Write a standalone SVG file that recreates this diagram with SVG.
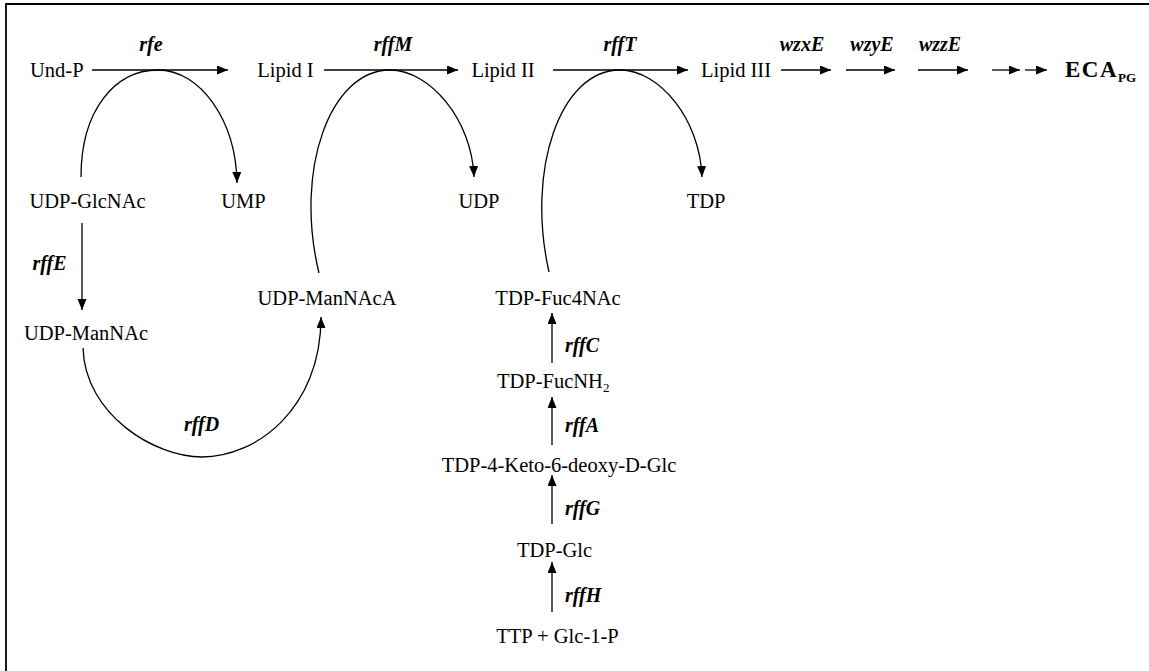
<svg xmlns="http://www.w3.org/2000/svg" width="1149" height="671" viewBox="0 0 1149 671">
<style>
.t{font-family:"Liberation Serif","Times New Roman",serif;font-size:20.5px;fill:#000}
.m{text-anchor:middle}
.e{font-family:"Liberation Serif","Times New Roman",serif;font-size:20px;font-weight:bold;font-style:italic;fill:#000}
.c{fill:none;stroke:#000;stroke-width:1.3}
</style>
<defs>
<marker id="ah" markerUnits="userSpaceOnUse" markerWidth="12" markerHeight="10" refX="11" refY="4.5" orient="auto">
<path d="M0,0 L11,4.5 L0,9 z" fill="#000"/>
</marker>
</defs>
<rect width="1149" height="671" fill="#fff"/>
<path d="M6,671 L6,4 L1149,4" fill="none" stroke="#000" stroke-width="1.8"/>

<g id="connectors">
<path class="c" d="M92,70 L228,70" marker-end="url(#ah)"/>
<path class="c" d="M324,70 L458,70" marker-end="url(#ah)"/>
<path class="c" d="M553,70 L688,70" marker-end="url(#ah)"/>
<path class="c" d="M781,70 L831,70" marker-end="url(#ah)"/>
<path class="c" d="M846,70 L895,70" marker-end="url(#ah)"/>
<path class="c" d="M918,70 L968,70" marker-end="url(#ah)"/>
<path class="c" d="M992,70 L1020,70" marker-end="url(#ah)"/>
<path class="c" d="M1025,70 L1047,70" marker-end="url(#ah)"/>
<path class="c" d="M81,177 C81,110 115,70 158,70 C200,70 236,120 237,183" marker-end="url(#ah)"/>
<path class="c" d="M319,273 C294,170 330,70 390,70 C430,70 472,120 474,177" marker-end="url(#ah)"/>
<path class="c" d="M549,272 C526,170 560,70 620,70 C660,70 700,120 702,177" marker-end="url(#ah)"/>
<path class="c" d="M82,223 L82,310" marker-end="url(#ah)"/>
<path class="c" d="M83,348 C85,415 155,457 202,457 C255,457 321,410 321,317" marker-end="url(#ah)"/>
<path class="c" d="M552,363 L552,313" marker-end="url(#ah)"/>
<path class="c" d="M552,445 L552,397" marker-end="url(#ah)"/>
<path class="c" d="M552,524 L552,475" marker-end="url(#ah)"/>
<path class="c" d="M552,612 L552,562" marker-end="url(#ah)"/>
</g>

<g id="und-p"><text class="t" x="30" y="77">Und-P</text></g>
<g id="lipid-i"><text class="t m" x="285.5" y="77">Lipid I</text></g>
<g id="lipid-ii"><text class="t m" x="503" y="77">Lipid II</text></g>
<g id="lipid-iii"><text class="t m" x="736" y="77">Lipid III</text></g>
<g id="eca"><text x="1065" y="77" font-family="Liberation Serif, Times New Roman, serif" font-weight="bold" font-size="23" letter-spacing="1.5">ECA<tspan font-size="13" dy="5" letter-spacing="0">PG</tspan></text></g>
<g id="udp-glcnac"><text class="t m" x="87.5" y="208">UDP-GlcNAc</text></g>
<g id="ump"><text class="t m" x="243.5" y="208">UMP</text></g>
<g id="udp"><text class="t m" x="479" y="208">UDP</text></g>
<g id="tdp"><text class="t m" x="706" y="208">TDP</text></g>
<g id="udp-mannacA"><text class="t m" x="327" y="305">UDP-ManNAcA</text></g>
<g id="udp-mannac"><text class="t m" x="86" y="340">UDP-ManNAc</text></g>
<g id="tdp-fuc4nac"><text class="t m" x="558" y="305">TDP-Fuc4NAc</text></g>
<g id="tdp-fucnh2"><text class="t" x="497" y="388">TDP-FucNH<tspan font-size="13" dy="4">2</tspan></text></g>
<g id="tdp-keto"><text class="t m" x="559" y="472">TDP-4-Keto-6-deoxy-D-Glc</text></g>
<g id="tdp-glc"><text class="t m" x="554.5" y="557">TDP-Glc</text></g>
<g id="ttp-glc1p"><text class="t m" x="557.5" y="643">TTP + Glc-1-P</text></g>

<g id="labels">
<text class="e m" x="151" y="51">rfe</text>
<text class="e m" x="393" y="51">rffM</text>
<text class="e m" x="620" y="51">rffT</text>
<text class="e m" x="802" y="51">wzxE</text>
<text class="e m" x="872" y="51">wzyE</text>
<text class="e m" x="940" y="51">wzzE</text>
<text class="e m" x="49.5" y="270">rffE</text>
<text class="e m" x="201.5" y="431">rffD</text>
<text class="e" x="565" y="352">rffC</text>
<text class="e" x="565" y="432">rffA</text>
<text class="e" x="565" y="515">rffG</text>
<text class="e" x="565" y="602">rffH</text>
</g>
</svg>
